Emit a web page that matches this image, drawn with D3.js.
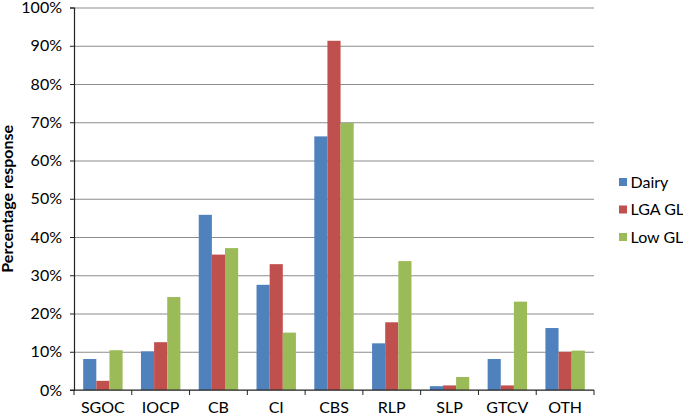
<!DOCTYPE html>
<html>
<head>
<meta charset="utf-8">
<script src="https://cdn.jsdelivr.net/npm/d3@7"></script>
<style>
  body { margin: 0; background: #fff; }
  text { font-family: Lato, "Noto Sans", sans-serif; fill: #000; }
</style>
</head>
<body>
<script>
// categorías y series
const categories = ['SGOC', 'IOCP', 'CB', 'CI', 'CBS', 'RLP', 'SLP', 'GTCV', 'OTH'];
const seriesNames = ['Dairy', 'LGA GL', 'Low GL'];
const dairy = [8.1, 10.1, 45.8, 27.5, 66.3, 12.2, 1.0, 8.1, 16.2];
const lgaGL = [2.4, 12.5, 35.4, 32.9, 91.3, 17.7, 1.2, 1.2, 10.0];
const lowGL = [10.4, 24.3, 37.1, 15.0, 69.8, 33.7, 3.4, 23.1, 10.3];
const yTicks = [0, 10, 20, 30, 40, 50, 60, 70, 80, 90, 100];
const colors = ['#4F81BD', '#C0504D', '#9BBB59'];

const width = 683, height = 416;
const plotLeft = 74, plotRight = 594, plotTop = 7.5, plotBottom = 390;

const svg = d3.select('body').append('svg')
  .attr('width', width)
  .attr('height', height);

const x0 = d3.scaleBand().domain(categories).range([plotLeft, plotRight]).padding(0);
const x1 = d3.scaleBand().domain(seriesNames).range([0, x0.bandwidth()]).paddingInner(0).paddingOuter(0.7);
const y = d3.scaleLinear().domain([0, 100]).range([plotBottom, plotTop]);
const color = d3.scaleOrdinal().domain(seriesNames).range(colors);

// líneas de cuadrícula
svg.append('g')
  .attr('transform', `translate(${plotLeft},0)`)
  .call(d3.axisLeft(y).tickValues(yTicks).tickSize(-(plotRight - plotLeft)).tickFormat(''))
  .call(g => g.select('.domain').remove())
  .call(g => g.selectAll('line').attr('stroke', '#8c8c8c').attr('stroke-width', 1.2));

// barras
const rows = categories.map((c, i) => ({ cat: c, values: [dairy[i], lgaGL[i], lowGL[i]] }));
svg.append('g').selectAll('g')
  .data(rows)
  .join('g')
  .attr('transform', d => `translate(${x0(d.cat)},0)`)
  .selectAll('rect')
  .data(d => d.values.map((v, j) => ({ key: seriesNames[j], value: v })))
  .join('rect')
  .attr('x', d => x1(d.key))
  .attr('y', d => y(d.value))
  .attr('width', x1.bandwidth())
  .attr('height', d => plotBottom - y(d.value))
  .attr('fill', d => color(d.key));

// eje Y
const yAxis = svg.append('g')
  .attr('transform', `translate(${plotLeft},0)`)
  .call(d3.axisLeft(y).tickValues(yTicks).tickSize(4).tickPadding(8).tickFormat(d => d + '%'));
yAxis.select('.domain').attr('stroke', '#222').attr('stroke-width', 1.2);
yAxis.selectAll('line').attr('stroke', '#222');
yAxis.selectAll('text').attr('font-size', 16).attr('font-family', 'Lato, sans-serif').attr('fill', '#000');

// eje X
const xTicks = categories.map(c => x0(c)).concat([plotRight]);
svg.append('line')
  .attr('x1', plotLeft - 4).attr('x2', plotRight)
  .attr('y1', plotBottom).attr('y2', plotBottom)
  .attr('stroke', '#222').attr('stroke-width', 1.2);
svg.append('g').selectAll('line')
  .data(xTicks)
  .join('line')
  .attr('x1', d => d).attr('x2', d => d)
  .attr('y1', plotBottom).attr('y2', plotBottom + 5)
  .attr('stroke', '#222');
svg.append('g').selectAll('text')
  .data(categories)
  .join('text')
  .attr('x', d => x0(d) + x0.bandwidth() / 2)
  .attr('y', 413)
  .attr('text-anchor', 'middle')
  .attr('font-size', 16)
  .text(d => d);

// título del eje Y
svg.append('text')
  .attr('transform', `translate(12.5,${(plotTop + plotBottom) / 2}) rotate(-90)`)
  .attr('text-anchor', 'middle')
  .attr('font-size', 16)
  .attr('font-weight', 'bold')
  .text('Percentage response');

// leyenda
const legend = svg.append('g').selectAll('g')
  .data(seriesNames)
  .join('g')
  .attr('transform', (d, i) => `translate(619,${182 + i * 27.5})`);
legend.append('rect')
  .attr('x', 0).attr('y', -4)
  .attr('width', 8).attr('height', 8)
  .attr('fill', d => color(d));
legend.append('text')
  .attr('x', 11.5)
  .attr('dy', '0.35em')
  .attr('font-size', 16)
  .text(d => d);
</script>
</body>
</html>
